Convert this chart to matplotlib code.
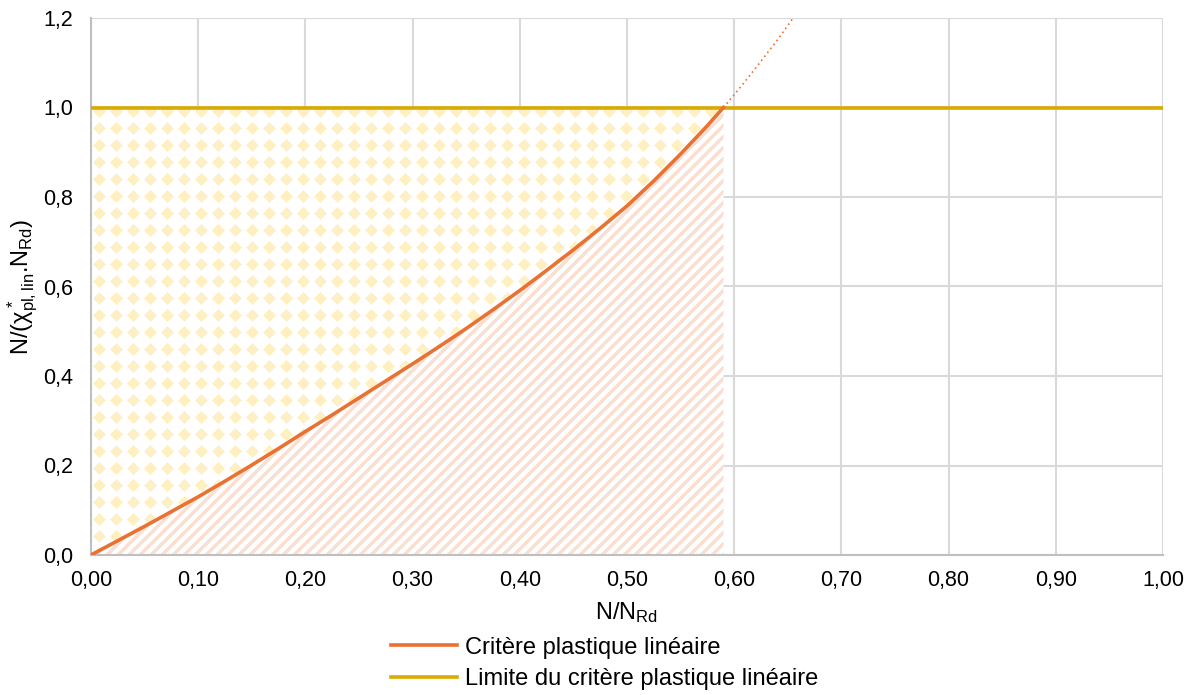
import numpy as np
import matplotlib
matplotlib.use("Agg")
import matplotlib.pyplot as plt
from matplotlib.patches import Polygon
from matplotlib.ticker import FuncFormatter, MultipleLocator

plt.rcParams['font.family'] = ['Liberation Sans', 'DejaVu Sans']
plt.rcParams['mathtext.default'] = 'regular'

# Data
x_crit = [0.000, 0.025, 0.050, 0.075, 0.100, 0.125, 0.150, 0.175, 0.200, 0.225,
          0.250, 0.275, 0.300, 0.325, 0.350, 0.375, 0.400, 0.425, 0.450, 0.475,
          0.500, 0.525, 0.550, 0.575, 0.590]
y_crit = [0.000, 0.032, 0.064, 0.097, 0.130, 0.165, 0.201, 0.238, 0.276, 0.313,
          0.351, 0.389, 0.427, 0.466, 0.506, 0.548, 0.591, 0.636, 0.682, 0.730,
          0.780, 0.836, 0.896, 0.9595, 1.000]
x_ext = [0.590, 0.605, 0.620, 0.640, 0.655]
y_ext = [1.000, 1.043, 1.088, 1.150, 1.200]
y_limit = 1.0

orange = '#E97132'
gold = '#D9AA00'
yellow_fill = '#FFF0C4'
pink_fill = '#FAE0D3'

W, H = 1193, 695
fig = plt.figure(figsize=(W / 100, H / 100), dpi=100)
ax = fig.add_axes([91 / W, 1 - 555 / H, 1072 / W, 537 / H])

ax.set_xlim(0, 1)
ax.set_ylim(0, 1.2)
ax.xaxis.set_major_locator(MultipleLocator(0.1))
ax.yaxis.set_major_locator(MultipleLocator(0.2))
ax.xaxis.set_major_formatter(FuncFormatter(lambda v, p: f"{v:.2f}".replace('.', ',')))
ax.yaxis.set_major_formatter(FuncFormatter(lambda v, p: f"{v:.1f}".replace('.', ',')))
ax.grid(True, color='#D9D9D9', linewidth=1.5, zorder=0)
ax.set_axisbelow(True)
for s in ['top', 'right']:
    ax.spines[s].set_visible(False)
for s in ['left', 'bottom']:
    ax.spines[s].set_color('#BFBFBF')
    ax.spines[s].set_linewidth(1.5)
ax.tick_params(length=0, labelsize=15.5, colors='#000000')
ax.tick_params(axis='x', pad=11)
ax.tick_params(axis='y', pad=13)

# pattern images (diamonds above the curve, stripes below)
pw, ph = 1072, 537
r, c = np.mgrid[0:ph, 0:pw]
dr = np.abs((r % 17) - 8)
dc = np.abs((c % 17) - 8)
diamonds = (dr + dc) < 7
img_d = np.ones((ph, pw, 4))
img_d[..., 3] = 0
img_d[diamonds, :3] = matplotlib.colors.to_rgb(yellow_fill)
img_d[diamonds, 3] = 1

stripes = ((r + c) % 11) < 5
img_s = np.ones((ph, pw, 4))
img_s[..., 3] = 0
img_s[stripes, :3] = matplotlib.colors.to_rgb(pink_fill)
img_s[stripes, 3] = 1

upper = list(zip(x_crit, y_crit)) + [(x_crit[-1], y_limit), (0, y_limit)]
lower = list(zip(x_crit, y_crit)) + [(x_crit[-1], 0)]
p_up = Polygon(upper, closed=True, facecolor='white', edgecolor='none', zorder=1)
p_lo = Polygon(lower, closed=True, facecolor='white', edgecolor='none', zorder=1)
ax.add_patch(p_up)
ax.add_patch(p_lo)

im1 = ax.imshow(img_d, extent=[0, 1, 0, 1.2], aspect='auto', interpolation='nearest', zorder=2)
im1.set_clip_path(p_up)
im2 = ax.imshow(img_s, extent=[0, 1, 0, 1.2], aspect='auto', interpolation='nearest', zorder=2)
im2.set_clip_path(p_lo)

ax.axhline(y_limit, color=gold, linewidth=2.6, zorder=4,
           label='Limite du critère plastique linéaire')
ax.plot(x_crit, y_crit, color=orange, linewidth=2.6, zorder=5,
        label='Critère plastique linéaire')
ax.plot(x_ext, y_ext, color=orange, linewidth=1.2, linestyle=(0, (1, 2)), zorder=5)

ax.set_xlabel('N/N$_{Rd}$', fontsize=17, labelpad=6)
ax.set_ylabel(r'N/($\chi^*_{pl,lin}$.N$_{Rd}$)', fontsize=17, labelpad=2)

h, l = ax.get_legend_handles_labels()
ax.legend([h[1], h[0]], [l[1], l[0]], loc='upper center', bbox_to_anchor=(0.479, -0.152),
          frameon=False, fontsize=17, handlelength=2.8, handletextpad=0.35,
          labelspacing=0.4, borderaxespad=0, borderpad=0)

fig.savefig('out.png', dpi=100)
